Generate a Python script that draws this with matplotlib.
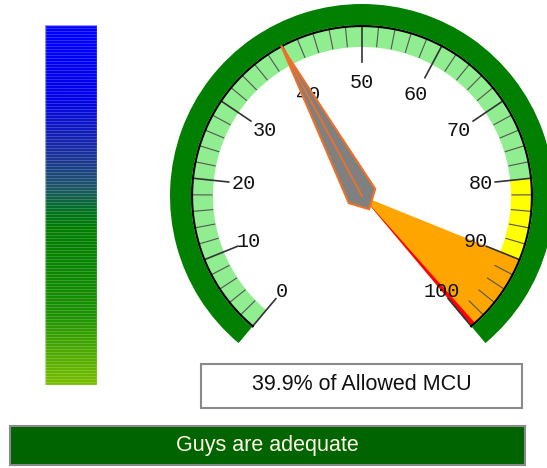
import numpy as np
import matplotlib
matplotlib.use("Agg")
import matplotlib.pyplot as plt
from matplotlib.patches import Wedge, Rectangle, Polygon

# --- chart values ---
scale_min, scale_max = 0, 100
major_ticks = list(range(0, 101, 10))
minor_ticks = [v for v in range(0, 101, 2) if v % 10 != 0]
band_starts = [0, 80, 90]
band_ends = [80, 90, 100]
band_colors = ["#90ee90", "#ffff00", "#ffa500"]
red_start, red_end = 99.4, 100
needle_value = 39.9
caption = f"{needle_value}% of Allowed MCU"
status = "Guys are adequate"

# gradient stops of the left bar (position from top, colour)
bar_stops = [0.0, 0.2, 0.35, 0.45, 0.52, 0.57, 0.8, 1.0]
bar_colors = [(0, 0, 255), (0, 0, 235), (25, 45, 160), (30, 85, 105),
              (0, 115, 30), (0, 125, 0), (25, 145, 0), (120, 190, 0)]

W, H = 547, 468
fig = plt.figure(figsize=(W / 100, H / 100), dpi=100)
ax = fig.add_axes([0, 0, 1, 1])
ax.set_xlim(0, W)
ax.set_ylim(0, H)
ax.axis("off")

# gauge geometry (pixels)
cx, cy = 362, H - 196
r_ring_out, r_ring_in = 192, 171
r_scale = 170
r_band = 149
r_major = 134
start_ang, sweep = 230, 280


def ang(v):
    return start_ang - sweep * (v - scale_min) / (scale_max - scale_min)


def pt(r, a):
    t = np.radians(a)
    return cx + r * np.cos(t), cy + r * np.sin(t)


# left colour bar
stops = np.array(bar_stops)
cols = np.array(bar_colors) / 255.0
rows = 360
pos = np.linspace(0, 1, rows)
img = np.stack([np.interp(pos, stops, cols[:, i]) for i in range(3)], axis=1)
img[::3] = img[::3] * 0.82 + 0.18  # light stripes
img = np.repeat(img[:, None, :], 2, axis=1)
ax.imshow(img, extent=[45, 97, H - 385, H - 25], aspect="auto", zorder=1)
ax.add_patch(Rectangle((45, H - 385), 52, 360, facecolor="none",
                       edgecolor="white", lw=1.0, alpha=0.5, zorder=1.5))

# coloured bands
for s, e, c in zip(band_starts, band_ends, band_colors):
    inner = 0 if c == "#ffa500" else r_band
    ax.add_patch(Wedge((cx, cy), r_scale, ang(e), ang(s), width=r_scale - inner,
                       facecolor=c, edgecolor="none", zorder=2))
ax.add_patch(Wedge((cx, cy), r_scale, ang(red_end), ang(red_start),
                   facecolor="#ff0000", edgecolor="none", zorder=2))

# ticks
for v in minor_ticks:
    (x0, y0), (x1, y1) = pt(r_scale, ang(v)), pt(r_band + 1, ang(v))
    ax.plot([x0, x1], [y0, y1], color="#555555", lw=0.8, zorder=3)
for v in major_ticks:
    a = ang(v)
    (x0, y0), (x1, y1) = pt(r_scale, a), pt(r_major, a)
    ax.plot([x0, x1], [y0, y1], color="#333333", lw=1.2, zorder=3)
    lx, ly = pt(120 - 6 * np.sin(np.radians(a)), a)
    ax.text(lx, ly, str(v), ha="center", va="center", fontsize=14.5,
            family="Liberation Mono", color="#111111", zorder=4)

# scale arc and outer ring
t = np.linspace(np.radians(ang(scale_max)), np.radians(ang(scale_min)), 300)
ax.plot(cx + r_scale * np.cos(t), cy + r_scale * np.sin(t), color="black", lw=1.6, zorder=3)
ax.add_patch(Wedge((cx, cy), r_ring_out, ang(scale_max), ang(scale_min),
                   width=r_ring_out - r_ring_in, facecolor="#007f00",
                   edgecolor="none", zorder=3))

# needle
a = np.radians(ang(needle_value))
d = np.array([np.cos(a), np.sin(a)])
p = np.array([-np.sin(a), np.cos(a)])
shape = [(170, 0), (0, 15), (-15, 0), (0, -15)]
verts = [(cx + u * d[0] + w * p[0], cy + u * d[1] + w * p[1]) for u, w in shape]
ax.add_patch(Polygon(verts, closed=True, facecolor="#808080",
                     edgecolor="#f07028", lw=1.5, zorder=5))
ax.plot([cx, verts[0][0]], [cy, verts[0][1]], color="#f07028", lw=1.3, zorder=6)

# caption box
ax.add_patch(Rectangle((201, H - 408), 321, 44, facecolor="white",
                       edgecolor="#8a8a8a", lw=1.5, zorder=2))
ax.text(361.5, H - 385, caption, ha="center", va="center", fontsize=15.5,
        family="Liberation Sans", color="#111111", zorder=3)

# status bar
ax.add_patch(Rectangle((10, H - 465), 515, 39, facecolor="#006400",
                       edgecolor="#8a8a8a", lw=1.5, zorder=2))
ax.text(267.5, H - 446, status, ha="center", va="center", fontsize=15.5,
        family="Liberation Sans", color="#fffbe6", zorder=3)

fig.savefig("out.png", dpi=100)
